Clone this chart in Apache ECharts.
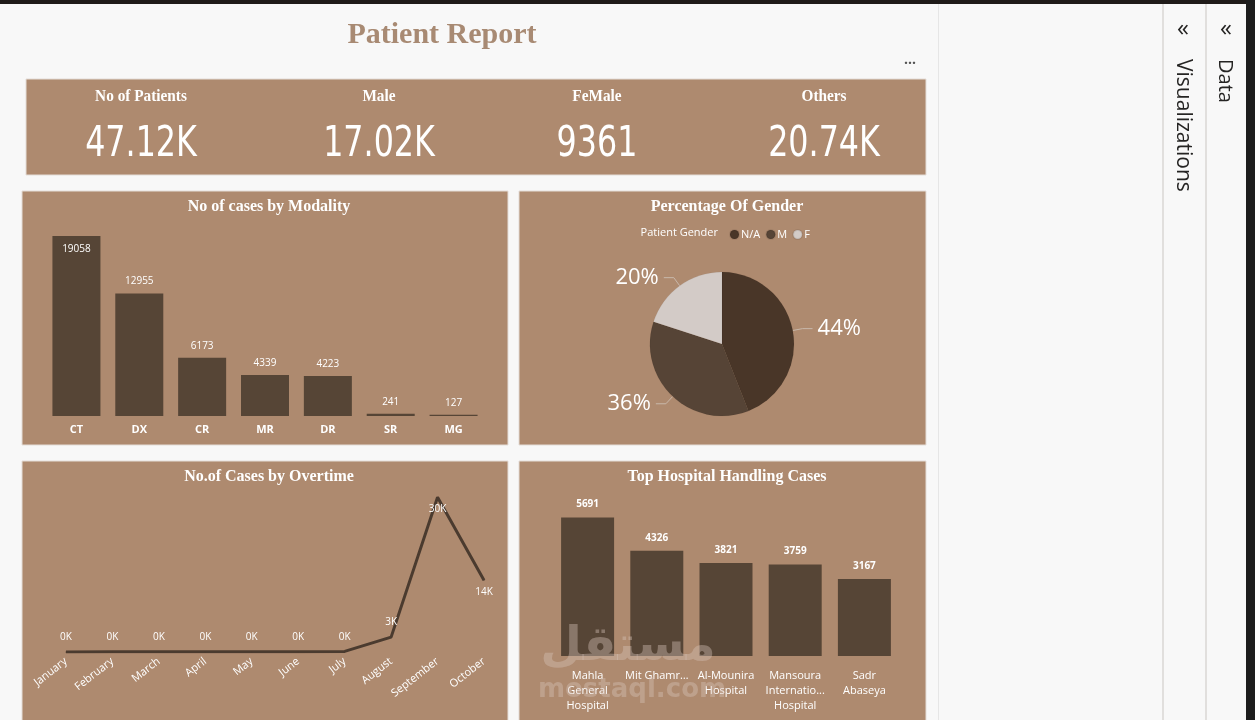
<!DOCTYPE html>
<html><head><meta charset="utf-8">
<script src="https://cdn.jsdelivr.net/npm/echarts@6/dist/echarts.min.js"></script>
<style>html,body{margin:0;padding:0;background:#f8f8f8;}#c{width:1255px;height:720px;}</style>
</head><body><div id="c"></div>
<script>
// ---- data ----
const kpiLabels = ['No of Patients', 'Male', 'FeMale', 'Others'];
const kpiValues = ['47.12K', '17.02K', '9361', '20.74K'];
const modalityCats = ['CT', 'DX', 'CR', 'MR', 'DR', 'SR', 'MG'];
const modalityVals = [19058, 12955, 6173, 4339, 4223, 241, 127];
const genderNames = ['N/A', 'M', 'F'];
const genderVals = [44, 36, 20];
const months = ['January', 'February', 'March', 'April', 'May', 'June', 'July', 'August', 'September', 'October'];
const monthVals = [20, 30, 25, 40, 60, 45, 120, 2900, 30200, 14000];
const hospitalCats = ['Mahla\nGeneral\nHospital', 'Mit Ghamr…', 'Al-Mounira\nHospital', 'Mansoura\nInternatio...\nHospital', 'Sadr\nAbaseya'];
const hospitalVals = [5691, 4326, 3821, 3759, 3167];

const CARD = '#ae8a6f', BAR = '#564536', WHITE = '#ffffff';
const SERIF = '"Liberation Serif", "DejaVu Serif", serif';
const SANS = '"Open Sans", "Noto Sans", sans-serif';

const chart = echarts.init(document.getElementById('c'));

const kpiX = [141, 379, 597, 824];
const graphics = [
  {type:'rect', z:-10, shape:{x:0,y:0,width:1255,height:720}, style:{fill:'#f8f8f8'}},
  {type:'rect', z:-9, shape:{x:0,y:0,width:1255,height:4}, style:{fill:'#1f1b19'}},
  {type:'rect', z:-9, shape:{x:1246,y:0,width:9,height:720}, style:{fill:'#1d1d1d'}},
  {type:'rect', z:-9, shape:{x:938,y:4,width:1,height:716}, style:{fill:'#e6e6e6'}},
  {type:'rect', z:-9, shape:{x:1162,y:4,width:2,height:716}, style:{fill:'#e1dfdd'}},
  {type:'rect', z:-9, shape:{x:1205,y:4,width:2,height:716}, style:{fill:'#e1dfdd'}},
  // cards
  {type:'rect', z:-5, shape:{x:26,y:79,width:900,height:96}, style:{fill:CARD, stroke:'#e4ddd8', lineWidth:1}},
  {type:'rect', z:-5, shape:{x:22,y:191,width:486,height:254}, style:{fill:CARD, stroke:'#e4ddd8', lineWidth:1}},
  {type:'rect', z:-5, shape:{x:519,y:191,width:407,height:254}, style:{fill:CARD, stroke:'#e4ddd8', lineWidth:1}},
  {type:'rect', z:-5, shape:{x:22,y:461,width:486,height:262}, style:{fill:CARD, stroke:'#e4ddd8', lineWidth:1}},
  {type:'rect', z:-5, shape:{x:519,y:461,width:407,height:262}, style:{fill:CARD, stroke:'#e4ddd8', lineWidth:1}},
  // titles
  {type:'text', z:10, x:442, y:35, style:{text:'Patient Report', fill:'#a88a73', font:'bold 30px ' + SERIF, textAlign:'center', textVerticalAlign:'middle'}},
  {type:'text', z:10, x:910, y:60, style:{text:'...', fill:'#555', font:'bold 14px ' + SANS, textAlign:'center', textVerticalAlign:'middle'}},
  // side panels
  {type:'text', z:10, x:1183, y:29, style:{text:'«', fill:'#252423', font:'24px ' + SANS, textAlign:'center', textVerticalAlign:'middle'}},
  {type:'text', z:10, x:1226, y:29, style:{text:'«', fill:'#252423', font:'24px ' + SANS, textAlign:'center', textVerticalAlign:'middle'}},
  {type:'text', z:10, x:1183, y:59, rotation:-Math.PI/2, style:{text:'Visualizations', fill:'#252423', font:'21px ' + SANS, textAlign:'left', textVerticalAlign:'middle'}},
  {type:'text', z:10, x:1225, y:59, rotation:-Math.PI/2, style:{text:'Data', fill:'#252423', font:'20px ' + SANS, textAlign:'left', textVerticalAlign:'middle'}},
  // pie legend caption
  {type:'text', z:10, x:718, y:233, style:{text:'Patient Gender', fill:WHITE, font:'11px ' + SANS, textAlign:'right', textVerticalAlign:'middle'}},
  // watermark
  {type:'text', z:20, x:628, y:648, style:{text:'مستقل', fill:'rgba(215,195,185,0.4)', font:'bold 48px "DejaVu Sans", sans-serif', textAlign:'center', textVerticalAlign:'middle'}},
  {type:'text', z:20, x:632, y:690, style:{text:'mostaql.com', fill:'rgba(215,195,185,0.4)', font:'bold 26px "DejaVu Sans", sans-serif', textAlign:'center', textVerticalAlign:'middle'}}
];
kpiLabels.forEach((t, i) => {
  graphics.push({type:'text', z:10, x:kpiX[i], y:97, scaleX:0.9, style:{text:t, fill:WHITE, font:'bold 17px ' + SERIF, textAlign:'center', textVerticalAlign:'middle'}});
  graphics.push({type:'text', z:10, x:kpiX[i], y:145, scaleX:0.84, style:{text:kpiValues[i], fill:WHITE, font:'42px "DejaVu Sans Condensed", "DejaVu Sans", sans-serif', textAlign:'center', textVerticalAlign:'middle'}});
});

const titleStyle = {color:WHITE, fontFamily:SERIF, fontWeight:'bold', fontSize:16};

const option = {
  animation:false,
  backgroundColor:'transparent',
  graphic: graphics,
  title: [
    {text:'No of cases by Modality', left:264, top:194, textAlign:'center', textStyle:titleStyle},
    {text:'Percentage Of Gender', left:722, top:194, textAlign:'center', textStyle:titleStyle},
    {text:'No.of Cases by Overtime', left:264, top:464, textAlign:'center', textStyle:titleStyle},
    {text:'Top Hospital Handling Cases', left:722, top:464, textAlign:'center', textStyle:titleStyle}
  ],
  legend: {
    data: genderNames, left:724, top:224, icon:'circle', itemWidth:9, itemHeight:9, itemGap:5,
    textStyle:{color:WHITE, fontSize:11, fontFamily:SANS, padding:[0,0,0,-3]}
  },
  color:['#493628', '#564436', '#d3cbc7'],
  grid: [
    {left:45, width:440, top:227, height:189},
    {left:66, width:418, top:488, height:164},
    {left:553, width:346, top:510, height:146}
  ],
  xAxis: [
    {gridIndex:0, type:'category', data:modalityCats, z:5, axisLine:{show:false}, axisTick:{show:false},
     axisLabel:{color:WHITE, fontSize:11, fontWeight:'bold', fontFamily:SANS, margin:8}},
    {gridIndex:1, type:'category', data:months, boundaryGap:false, z:5, axisLine:{show:false}, axisTick:{show:false},
     axisLabel:{color:WHITE, fontSize:11, fontFamily:SANS, rotate:38, margin:8, interval:0}},
    {gridIndex:2, type:'category', data:hospitalCats, z:5, axisLine:{show:false}, axisTick:{show:false},
     axisLabel:{color:WHITE, fontSize:11, fontFamily:SANS, margin:12, lineHeight:15, interval:0}}
  ],
  yAxis: [
    {gridIndex:0, type:'value', min:0, max:20000, show:false},
    {gridIndex:1, type:'value', min:0, max:32000, show:false},
    {gridIndex:2, type:'value', min:0, max:6000, show:false}
  ],
  series: [
    {type:'bar', xAxisIndex:0, yAxisIndex:0, barWidth:48, itemStyle:{color:BAR},
     data: modalityVals.map((v, i) => i === 0 ? {value:v, label:{position:'insideTop', distance:8}} : v),
     label:{show:true, position:'top', distance:7, color:WHITE, fontSize:10, fontFamily:SANS}},
    {type:'line', xAxisIndex:1, yAxisIndex:1, showSymbol:true, symbol:'circle', symbolSize:1,
     lineStyle:{color:'#4b3b2f', width:3}, itemStyle:{color:'#4b3b2f'},
     data: monthVals.map((v, i) => (i >= 8) ? {value:v, label:{position:'bottom', distance:6}} : v),
     label:{show:true, position:'top', distance:9, color:WHITE, fontSize:10, fontFamily:SANS,
            formatter: p => Math.round(p.value / 1000) + 'K'}},
    {type:'bar', xAxisIndex:2, yAxisIndex:2, barWidth:53, itemStyle:{color:BAR},
     data: hospitalVals,
     label:{show:true, position:'top', distance:8, color:WHITE, fontSize:10, fontWeight:'bold', fontFamily:SANS}},
    {type:'pie', center:[722, 344], radius:72, startAngle:90, clockwise:true,
     data: genderNames.map((n, i) => ({name:n, value:genderVals[i]})),
     itemStyle:{borderColor:'rgba(0,0,0,0.08)', borderWidth:0.5},
     label:{show:true, formatter:'{c}%', color:WHITE, fontSize:22, fontFamily:SANS},
     labelLine:{show:true, length:10, length2:10, lineStyle:{color:'#c9b8ab', width:1}}}
  ]
};
chart.setOption(option);
</script>
</body></html>
